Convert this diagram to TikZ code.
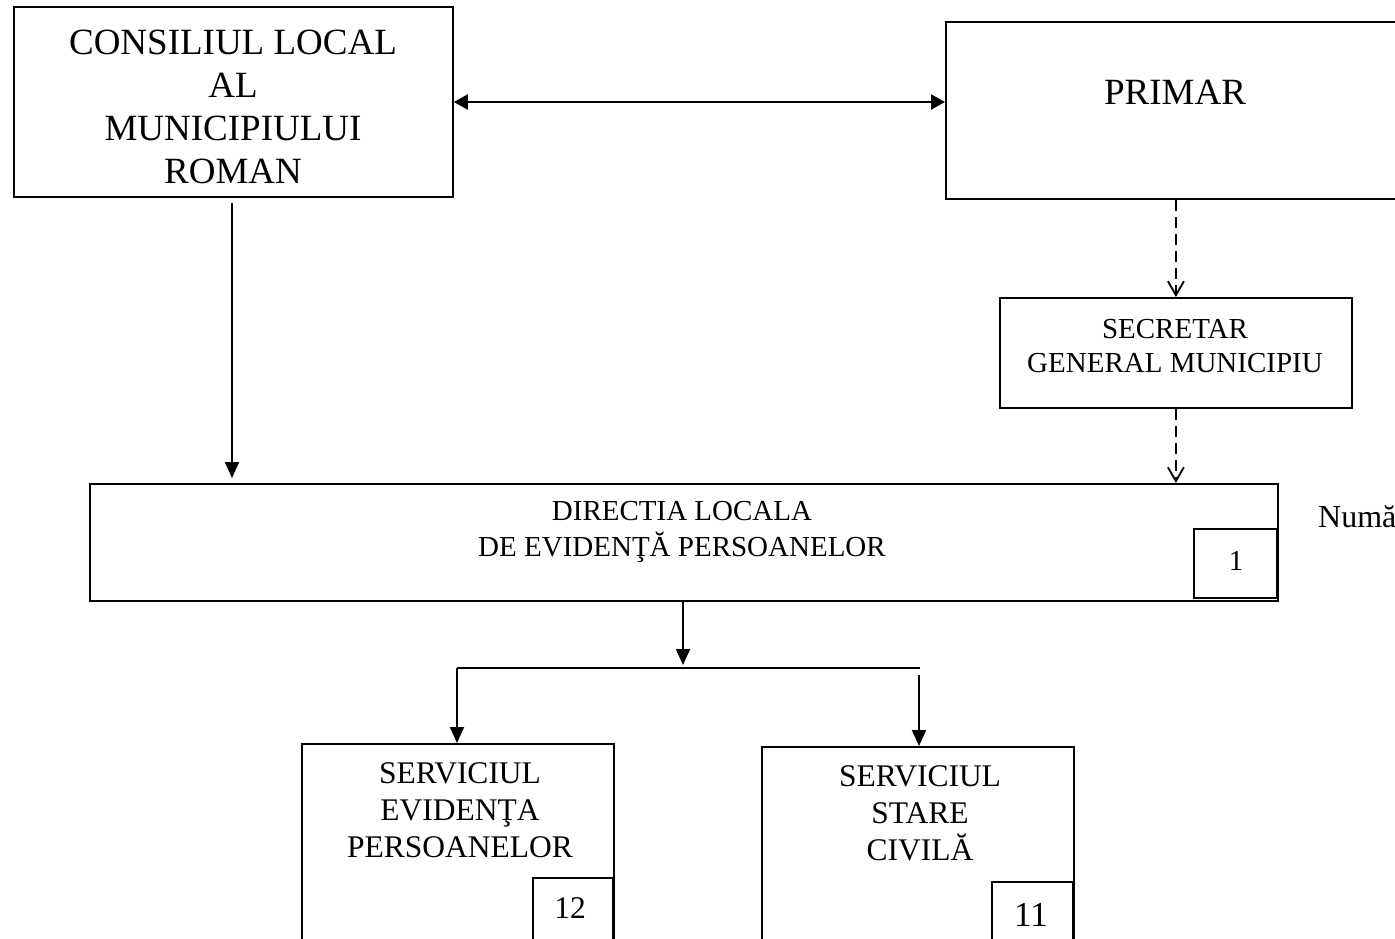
\documentclass[tikz,border=0pt]{standalone}
\usepackage{fontspec}
\setmainfont{Liberation Serif}
\usetikzlibrary{arrows.meta}
\begin{document}
\begin{tikzpicture}[x=1pt,y=-1pt,
  box/.style={draw, line width=1.8pt, anchor=north west, inner sep=0pt},
  lbl/.style={align=center, inner sep=0pt},
  arr/.style={line width=2pt, -{Triangle[length=16pt,width=14pt]}},
  darr/.style={line width=2.2pt, dash pattern=on 11pt off 6pt, -{Straight Barb[length=14pt,width=16pt,line width=1.8pt]}},
  line/.style={line width=2pt}]
\useasboundingbox (0,0) rectangle (1395,938);
% boxes
\node[box, minimum width=439pt, minimum height=190pt] (cl) at (13,6) {};
\node[box, minimum width=500pt, minimum height=177pt] (pr) at (945,21) {};
\node[box, minimum width=352pt, minimum height=110pt] (sec) at (999,297) {};
\node[box, minimum width=1188pt, minimum height=117pt] (dir) at (89,483) {};
\node[box, minimum width=83pt, minimum height=69pt] (b1) at (1193,528) {};
\node[box, minimum width=312pt, minimum height=220pt] (sev) at (301,743) {};
\node[box, minimum width=80pt, minimum height=80pt] (b12) at (532,877) {};
\node[box, minimum width=312pt, minimum height=220pt] (ssc) at (761,746) {};
\node[box, minimum width=81pt, minimum height=80pt] (b11) at (991,881) {};
% texts
\node[lbl, font=\fontsize{37}{43}\selectfont] (tcl) at (233,106.5) {CONSILIUL LOCAL\\AL\\MUNICIPIULUI\\ROMAN};
\node[lbl, font=\fontsize{37}{43}\selectfont] (tpr) at (1175,92) {PRIMAR};
\node[lbl, font=\fontsize{29}{34}\selectfont] (tsec) at (1175,346) {SECRETAR\\GENERAL MUNICIPIU};
\node[lbl, font=\fontsize{29}{36}\selectfont] (tdir) at (682,532) {DIRECTIA LOCALA\\DE EVIDENŢĂ PERSOANELOR};
\node[lbl, font=\fontsize{29}{34}\selectfont] (t1) at (1236,561) {1};
\node[lbl, font=\fontsize{32}{36}\selectfont, anchor=base west] (tnum) at (1318,527) {Numă};
\node[lbl, font=\fontsize{31.5}{37}\selectfont] (tsev) at (460,810) {SERVICIUL\\EVIDENŢA\\PERSOANELOR};
\node[lbl, font=\fontsize{31.5}{37}\selectfont] (t12) at (570,908) {12};
\node[lbl, font=\fontsize{31.5}{37}\selectfont] (tssc) at (920,813) {SERVICIUL\\STARE\\CIVILĂ};
\node[lbl, font=\fontsize{35}{37}\selectfont] (t11) at (1031,915) {11};
% connectors
\coordinate (dy) at (700,102);
\draw[line width=2pt, {Triangle[length=14pt,width=15pt]}-{Triangle[length=14pt,width=15pt]}] (cl.east |- dy) -- (pr.west |- dy);
\coordinate (c1) at (232,203);
\coordinate (c2) at (232,478);
\draw[arr] (c1) -- (c2);
\draw[darr] (sec.north |- pr.south) -- (sec.north);
\draw[darr] (sec.south) -- (sec.south |- dir.north);
\coordinate (d1) at (683,600);
\coordinate (d2) at (683,665);
\draw[arr] (d1) -- (d2);
\coordinate (hl) at (457,668);
\coordinate (hr) at (920,668);
\draw[line] (hl) -- (hr);
\draw[arr] (hl) -- (hl |- sev.north);
\coordinate (r1) at (919,675);
\draw[arr] (r1) -- (r1 |- ssc.north);
\end{tikzpicture}
\end{document}
